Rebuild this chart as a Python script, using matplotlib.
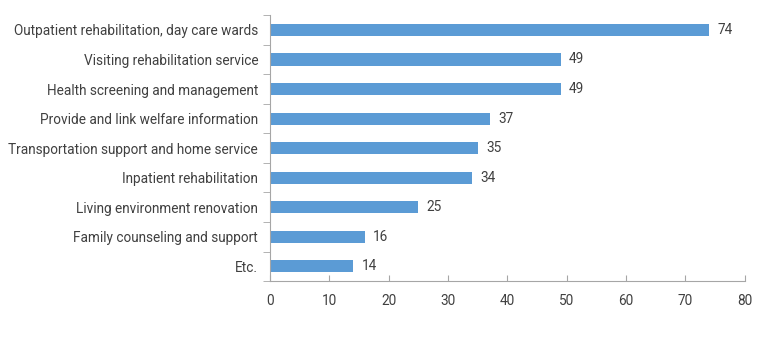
import matplotlib.pyplot as plt

plt.rcParams['font.family'] = ['Roboto', 'DejaVu Sans']

categories = ['Outpatient rehabilitation, day care wards',
              'Visiting rehabilitation service',
              'Health screening and management',
              'Provide and link welfare information',
              'Transportation support and home service',
              'Inpatient rehabilitation',
              'Living environment renovation',
              'Family counseling and support',
              'Etc.']
values = [74, 49, 49, 37, 35, 34, 25, 16, 14]
xticks = [0, 10, 20, 30, 40, 50, 60, 70, 80]

fig = plt.figure(figsize=(7.67, 3.37), dpi=100)
ax = fig.add_axes([0.352, 0.166, 0.619, 0.789])

pos = list(range(len(categories)))
ax.barh(pos, values, height=0.41, color='#5B9BD5')
for p, v in zip(pos, values):
    ax.text(v + 1.4, p, str(v), va='center', ha='left', fontsize=9.8, color='#404040')

ax.set_ylim(len(categories) - 0.5, -0.5)
ax.set_xlim(0, 80)
ax.set_xticks(xticks)
ax.set_yticks(pos)
ax.set_yticklabels(categories, fontsize=9.8, color='#404040')
ax.tick_params(axis='y', length=0, pad=8.5)
ax.set_yticks([p + 0.5 for p in [-1] + pos], minor=True)
ax.tick_params(axis='y', which='minor', length=5, color='#A6A6A6', direction='out')
ax.tick_params(axis='x', length=4, direction='in', color='#A6A6A6', labelsize=9.8,
               labelcolor='#404040', pad=9)

for s in ['top', 'right']:
    ax.spines[s].set_visible(False)
for s in ['left', 'bottom']:
    ax.spines[s].set_color('#A6A6A6')
    ax.spines[s].set_linewidth(0.8)

fig.savefig('out.png', dpi=100)
